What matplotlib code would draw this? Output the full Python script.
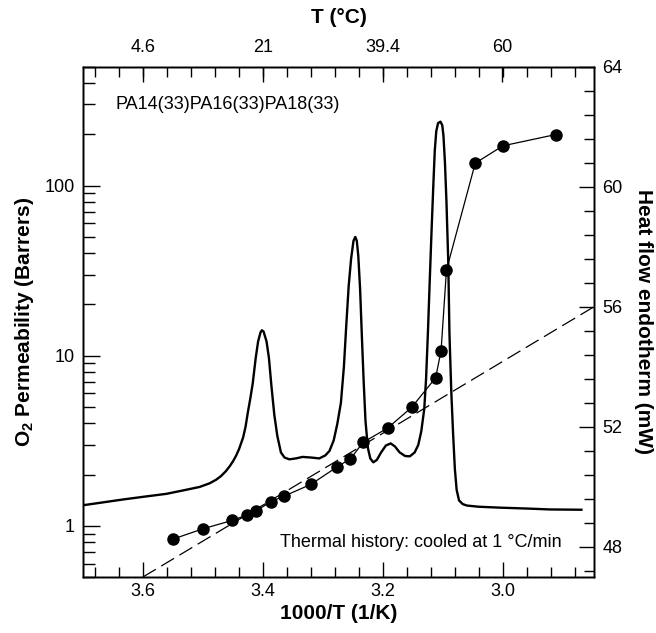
import numpy as np
import matplotlib
matplotlib.use("Agg")
from matplotlib import pyplot as plt
from matplotlib.ticker import MultipleLocator, FixedLocator, LogLocator, NullFormatter, FixedFormatter

plt.rcParams['font.family'] = ['Liberation Sans', 'DejaVu Sans']
plt.rcParams['mathtext.fontset'] = 'custom'
plt.rcParams['mathtext.rm'] = 'Liberation Sans'
plt.rcParams['mathtext.bf'] = 'Liberation Sans:bold'

# O2 permeability vs 1000/T
inv_t = [3.55, 3.50, 3.451, 3.427, 3.411, 3.387, 3.3645, 3.32, 3.276, 3.254,
         3.233, 3.192, 3.152, 3.112, 3.103, 3.094, 3.046, 3.000, 2.912]
perm = [0.835, 0.960, 1.076, 1.156, 1.225, 1.384, 1.495, 1.752, 2.223, 2.478,
        3.094, 3.756, 4.97, 7.42, 10.7, 31.9, 135.5, 171.3, 199.6]

# dashed Arrhenius line (end points)
fit_x = [3.60, 2.848]
fit_p = [0.50, 19.4]

# DSC trace, heat flow (mW) vs 1000/T
dsc_x = [3.700, 3.672, 3.634, 3.600, 3.561, 3.534, 3.5055, 3.489, 3.478, 3.470,
         3.462, 3.455, 3.450, 3.445, 3.440, 3.437, 3.433, 3.429, 3.425, 3.421,
         3.417, 3.412, 3.408, 3.404, 3.4017, 3.399,
         3.394, 3.390, 3.386, 3.381, 3.376, 3.370, 3.364, 3.356, 3.345, 3.334,
         3.320, 3.306, 3.296, 3.289, 3.282, 3.276, 3.270, 3.265, 3.261, 3.257,
         3.253, 3.249, 3.246, 3.2435, 3.241, 3.238, 3.235, 3.232, 3.229, 3.225,
         3.221, 3.216, 3.210, 3.203, 3.195, 3.187, 3.180, 3.172, 3.163, 3.155,
         3.147, 3.141, 3.136, 3.131, 3.128, 3.125, 3.122, 3.119, 3.116, 3.1135,
         3.111, 3.108, 3.104, 3.101, 3.099, 3.0965, 3.094, 3.091, 3.089, 3.086,
         3.083, 3.080, 3.077, 3.073, 3.067, 3.060, 3.040, 3.005, 2.960, 2.922,
         2.869]
dsc_mw = [49.39, 49.47, 49.58, 49.67, 49.77, 49.88, 50.00, 50.12, 50.24, 50.36,
          50.52, 50.70, 50.85, 51.03, 51.25, 51.42, 51.65, 52.00, 52.50, 52.95,
          53.45, 54.30, 54.85, 55.15, 55.22, 55.18,
          54.85, 54.30, 53.40, 52.40, 51.70, 51.15, 50.98, 50.92, 50.95, 51.00,
          50.98, 50.95, 51.05, 51.20, 51.55, 52.10, 52.80, 54.00, 55.40, 56.70,
          57.60, 58.20, 58.33, 58.20, 57.70, 56.60, 55.00, 53.50, 52.20, 51.30,
          50.95, 50.82, 50.90, 51.15, 51.38, 51.45, 51.35, 51.15, 51.03, 51.02,
          51.15, 51.40, 51.85, 52.60, 53.60, 55.10, 56.80, 58.45, 60.00, 61.20,
          61.85, 62.12, 62.17, 62.05, 61.70, 60.80, 59.50, 57.50, 55.10, 53.20,
          51.80, 50.60, 49.90, 49.55, 49.43, 49.38, 49.34, 49.31, 49.28, 49.25,
          49.24]

top_temps_c = [4.6, 21, 39.4, 60]
top_labels = ["4.6", "21", "39.4", "60"]

fig = plt.figure(figsize=(6.56, 6.33), dpi=100)
ax = fig.add_axes([0.1265, 0.0885, 0.779, 0.8061])

ax.plot(inv_t, perm, color='black', lw=0.9, marker='o', ms=8, zorder=3)
ax.plot(fit_x, fit_p, color='black', lw=0.9, dashes=(12, 5), zorder=2)

ax.set_yscale('log')
ax.set_xlim(3.70, 2.848)
ax.set_ylim(0.5, 500)
ax.xaxis.set_major_locator(FixedLocator([3.6, 3.4, 3.2, 3.0]))
ax.xaxis.set_minor_locator(MultipleLocator(0.04))
ax.xaxis.set_major_formatter(FixedFormatter(["3.6", "3.4", "3.2", "3.0"]))
ax.yaxis.set_major_locator(FixedLocator([1, 10, 100]))
ax.yaxis.set_major_formatter(FixedFormatter(["1", "10", "100"]))
ax.yaxis.set_minor_locator(LogLocator(base=10, subs=np.arange(2, 10)))
ax.yaxis.set_minor_formatter(NullFormatter())
ax.tick_params(which='both', direction='in', top=False, right=False, labelsize=13, width=1)
ax.tick_params(axis='y', which='major', length=12, pad=6)
ax.tick_params(axis='y', which='minor', length=8.5)
ax.tick_params(axis='x', which='major', length=11, pad=4)
ax.tick_params(axis='x', which='minor', length=7.5)
ax.set_xlabel("1000/T (1/K)", fontsize=15, fontweight='bold', labelpad=3)
ax.set_ylabel(r"$\mathbf{O_2}$ Permeability (Barrers)", fontsize=15, fontweight='bold', labelpad=6)

ax.text(0.063, 0.925, "PA14(33)PA16(33)PA18(33)", transform=ax.transAxes,
        fontsize=13, va='center', ha='left')
ax.text(0.937, 0.067, "Thermal history: cooled at 1 \u00b0C/min", transform=ax.transAxes,
        fontsize=13, va='center', ha='right')

# DSC on right axis
ax2 = ax.twinx()
ax2.plot(dsc_x, dsc_mw, color='black', lw=1.7)
ax2.set_ylim(47, 64)
ax2.yaxis.set_major_locator(FixedLocator([48, 52, 56, 60, 64]))
ax2.yaxis.set_minor_locator(MultipleLocator(0.8))
ax2.tick_params(which='both', direction='in', labelsize=13, width=1)
ax2.tick_params(which='major', length=11, pad=6)
ax2.tick_params(which='minor', length=7.5)
ax2.set_ylabel("Heat flow endotherm (mW)", fontsize=15, fontweight='bold',
               rotation=-90, ha='center', va='center')
ax2.yaxis.set_label_coords(1.096, 0.5)

# top temperature axis
ax3 = ax.twiny()
ax3.set_xlim(ax.get_xlim())
ax3.xaxis.set_major_locator(FixedLocator([1000.0 / (t + 273.15) for t in top_temps_c]))
ax3.xaxis.set_major_formatter(FixedFormatter(top_labels))
ax3.xaxis.set_minor_locator(MultipleLocator(0.04))
ax3.tick_params(which='both', direction='in', labelsize=13, width=1)
ax3.tick_params(which='major', length=11, pad=8)
ax3.tick_params(which='minor', length=7.5)
ax3.set_xlabel("T (\u00b0C)", fontsize=15, fontweight='bold', labelpad=11)

for a in (ax, ax2, ax3):
    for s in a.spines.values():
        s.set_linewidth(1.0)

fig.savefig("out.png", dpi=100)
